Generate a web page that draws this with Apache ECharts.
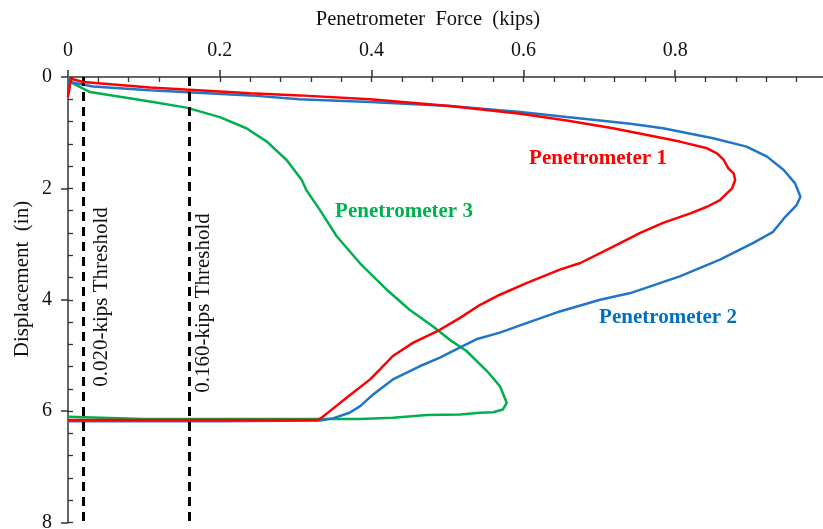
<!DOCTYPE html>
<html>
<head>
<meta charset="utf-8">
<script src="https://cdn.jsdelivr.net/npm/echarts@6/dist/echarts.min.js"></script>
<style>
html, body { margin: 0; padding: 0; background: #fff; }
#main { width: 823px; height: 529px; }
</style>
</head>
<body>
<div id="main"></div>
<script>
// axis ticks
var forceTicks = [0, 0.2, 0.4, 0.6, 0.8, 1.0];
var dispTicks = [0, 2, 4, 6, 8];
var thresholds = [0.02, 0.16];
var thresholdNames = ['0.020-kips Threshold', '0.160-kips Threshold'];
var seriesNames = ['Penetrometer 1', 'Penetrometer 2', 'Penetrometer 3'];

// Penetrometer 1 (red)
var p1Force = [0.000, 0.004, 0.020, 0.108, 0.240, 0.305, 0.398, 0.503, 0.596, 0.657, 0.718, 0.763, 0.806, 0.842, 0.855, 0.864, 0.870, 0.877, 0.879, 0.875, 0.868, 0.859, 0.842, 0.820, 0.784, 0.754, 0.719, 0.675, 0.648, 0.604, 0.569, 0.543, 0.516, 0.486, 0.455, 0.428, 0.411, 0.398, 0.367, 0.345, 0.334, 0.329, 0.200, 0.000];
var p1Disp = [0.36, 0.03, 0.09, 0.19, 0.29, 0.33, 0.40, 0.52, 0.66, 0.78, 0.92, 1.04, 1.16, 1.28, 1.37, 1.49, 1.64, 1.73, 1.85, 2.00, 2.09, 2.21, 2.33, 2.45, 2.62, 2.80, 3.04, 3.34, 3.46, 3.70, 3.91, 4.09, 4.33, 4.57, 4.77, 5.01, 5.25, 5.43, 5.76, 6.00, 6.12, 6.16, 6.16, 6.16];

// Penetrometer 2 (blue)
var p2Force = [0.000, 0.002, 0.033, 0.108, 0.240, 0.305, 0.398, 0.503, 0.596, 0.657, 0.701, 0.741, 0.784, 0.850, 0.894, 0.921, 0.943, 0.958, 0.965, 0.960, 0.945, 0.929, 0.903, 0.859, 0.806, 0.741, 0.701, 0.648, 0.604, 0.569, 0.538, 0.516, 0.490, 0.464, 0.428, 0.402, 0.385, 0.371, 0.349, 0.332, 0.200, 0.000];
var p2Disp = [0.00, 0.09, 0.17, 0.24, 0.33, 0.40, 0.45, 0.52, 0.63, 0.72, 0.78, 0.84, 0.92, 1.10, 1.25, 1.43, 1.67, 1.91, 2.15, 2.30, 2.51, 2.78, 2.98, 3.28, 3.58, 3.88, 4.00, 4.21, 4.42, 4.59, 4.71, 4.86, 5.04, 5.19, 5.43, 5.70, 5.91, 6.03, 6.13, 6.17, 6.18, 6.18];

// Penetrometer 3 (green)
var p3Force = [0.000, 0.007, 0.029, 0.112, 0.156, 0.200, 0.235, 0.262, 0.288, 0.308, 0.314, 0.332, 0.354, 0.385, 0.420, 0.450, 0.481, 0.503, 0.525, 0.552, 0.569, 0.578, 0.573, 0.560, 0.543, 0.516, 0.473, 0.428, 0.385, 0.305, 0.100, 0.000];
var p3Disp = [0.00, 0.12, 0.27, 0.45, 0.55, 0.72, 0.92, 1.16, 1.49, 1.85, 2.03, 2.39, 2.86, 3.35, 3.82, 4.18, 4.48, 4.72, 4.92, 5.28, 5.55, 5.85, 5.97, 6.02, 6.03, 6.06, 6.07, 6.12, 6.14, 6.14, 6.14, 6.10];

var colors = ['#ff0000', '#1f75c6', '#00b050'];
var font = 'Liberation Serif';

function pairs(xs, ys) {
    var out = [];
    for (var i = 0; i < xs.length; i++) {
        out.push([xs[i], ys[i]]);
    }
    return out;
}

var myChart = echarts.init(document.getElementById('main'));

var xStep = forceTicks[1] - forceTicks[0];
var yStep = dispTicks[1] - dispTicks[0];
var axisColor = '#333';

function xAxisBase() {
    return {
        type: 'value',
        position: 'top',
        min: forceTicks[0],
        max: forceTicks[forceTicks.length - 1],
        splitLine: { show: false }
    };
}
function yAxisBase() {
    return {
        type: 'value',
        position: 'left',
        inverse: true,
        min: dispTicks[0],
        max: dispTicks[dispTicks.length - 1],
        splitLine: { show: false }
    };
}

var xMain = xAxisBase();
xMain.interval = xStep;
xMain.axisLine = { lineStyle: { color: axisColor, width: 1.5 } };
xMain.axisTick = { length: 7, lineStyle: { color: axisColor, width: 1.5 } };
xMain.axisLabel = { margin: 16, color: '#111', fontFamily: font, fontSize: 20 };

var xMinor = xAxisBase();
xMinor.interval = xStep / 5;
xMinor.axisLine = { show: false };
xMinor.axisTick = { inside: true, length: 5, lineStyle: { color: axisColor, width: 1.3 } };
xMinor.axisLabel = { show: false };

var yMain = yAxisBase();
yMain.interval = yStep;
yMain.axisLine = { lineStyle: { color: axisColor, width: 1.5 } };
yMain.axisTick = { length: 7, lineStyle: { color: axisColor, width: 1.5 } };
yMain.axisLabel = { margin: 16, color: '#111', fontFamily: font, fontSize: 20 };

var yMinor = yAxisBase();
yMinor.interval = yStep / 5;
yMinor.axisLine = { show: false };
yMinor.axisTick = { inside: true, length: 5, lineStyle: { color: axisColor, width: 1.3 } };
yMinor.axisLabel = { show: false };

var allData = [pairs(p1Force, p1Disp), pairs(p2Force, p2Disp), pairs(p3Force, p3Disp)];
var series = [];
for (var s = 0; s < allData.length; s++) {
    series.push({
        name: seriesNames[s],
        type: 'line',
        data: allData[s],
        showSymbol: false,
        symbol: 'none',
        z: 3 - s + 2,
        lineStyle: { color: colors[s], width: 2.5 }
    });
}
// threshold lines
series[0].markLine = {
    silent: true,
    symbol: 'none',
    label: { show: false },
    lineStyle: { color: '#000', width: 3, type: [9, 6] },
    data: thresholds.map(function (t) { return { xAxis: t }; })
};

var textStyle = function (size, color, weight) {
    return { fill: color, fontFamily: font, fontSize: size, fontWeight: weight || 'normal', textAlign: 'center', textVerticalAlign: 'middle' };
};

option = {
    animation: false,
    grid: { left: 68, top: 77, right: -4, bottom: 6.5, outerBoundsMode: 'none', containLabel: false },
    xAxis: [xMain, xMinor],
    yAxis: [yMain, yMinor],
    series: series
};
myChart.setOption(option);

// texts: axis titles, threshold names, series names
var graphics = [
    { type: 'text', x: 428, y: 20, style: Object.assign({ text: 'Penetrometer  Force  (kips)' }, textStyle(20.5, '#111')) },
    { type: 'text', x: 22, y: 279, rotation: Math.PI / 2, style: Object.assign({ text: 'Displacement  (in)' }, textStyle(21, '#111')) },
    { type: 'text', x: 598, y: 159, style: Object.assign({ text: seriesNames[0] }, textStyle(21, colors[0], 'bold')) },
    { type: 'text', x: 668, y: 318, style: Object.assign({ text: seriesNames[1] }, textStyle(21, '#0070c0', 'bold')) },
    { type: 'text', x: 404, y: 212, style: Object.assign({ text: seriesNames[2] }, textStyle(21, colors[2], 'bold')) }
];
var labelY = [297, 303];
var labelDx = [18, 14];
for (var k = 0; k < thresholds.length; k++) {
    var px = myChart.convertToPixel({ gridIndex: 0 }, [thresholds[k], 0])[0];
    graphics.push({ type: 'text', x: px + labelDx[k], y: labelY[k], rotation: Math.PI / 2, style: Object.assign({ text: thresholdNames[k] }, textStyle(21, '#111')) });
}
myChart.setOption({ graphic: graphics });
</script>
</body>
</html>
